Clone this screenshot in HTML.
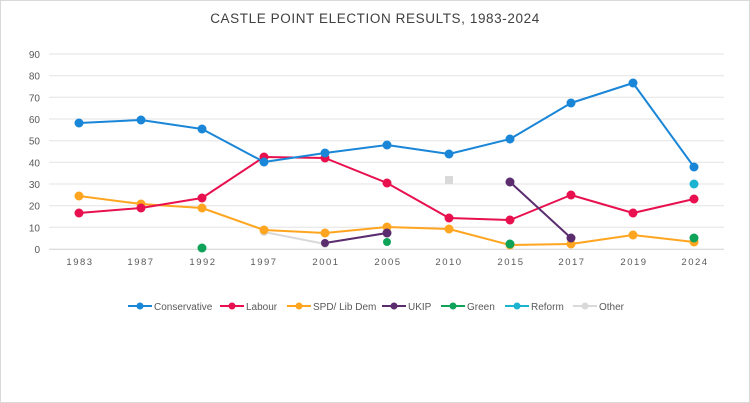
<!DOCTYPE html>
<html><head><style>
html,body{margin:0;padding:0;background:#fff}
svg{display:block}
text{font-family:"Liberation Sans",sans-serif}
</style></head><body>
<svg width="750" height="403" viewBox="0 0 750 403">
<rect x="0.5" y="0.5" width="749" height="402" fill="#fff" stroke="#d9d9d9"/>
<text x="375" y="23" text-anchor="middle" font-size="13.5" fill="#404040" letter-spacing="0.6">CASTLE POINT ELECTION RESULTS, 1983-2024</text>
<g stroke="#e3e3e3" stroke-width="1">
<line x1="49" x2="724" y1="54" y2="54"/><line x1="49" x2="724" y1="75.7" y2="75.7"/><line x1="49" x2="724" y1="97.3" y2="97.3"/><line x1="49" x2="724" y1="119" y2="119"/><line x1="49" x2="724" y1="140.7" y2="140.7"/><line x1="49" x2="724" y1="162.3" y2="162.3"/><line x1="49" x2="724" y1="184" y2="184"/><line x1="49" x2="724" y1="205.7" y2="205.7"/><line x1="49" x2="724" y1="227.3" y2="227.3"/>
</g>
<line x1="49" x2="724" y1="249.3" y2="249.3" stroke="#d0d0d0"/>
<g font-size="10" fill="#595959" text-anchor="end">
<text x="40" y="58">90</text><text x="40" y="79.7">80</text><text x="40" y="101.3">70</text><text x="40" y="123">60</text><text x="40" y="144.7">50</text><text x="40" y="166.3">40</text><text x="40" y="188">30</text><text x="40" y="209.7">20</text><text x="40" y="231.3">10</text><text x="40" y="253">0</text>
</g>
<g font-size="9.5" fill="#595959" text-anchor="middle" letter-spacing="1.5">
<text x="80" y="265">1983</text><text x="141" y="265">1987</text><text x="203" y="265">1992</text><text x="264" y="265">1997</text><text x="326" y="265">2001</text><text x="388" y="265">2005</text><text x="449" y="265">2010</text><text x="511" y="265">2015</text><text x="572" y="265">2017</text><text x="634" y="265">2019</text><text x="695" y="265">2024</text>
</g>
<g fill="none" stroke-width="2" stroke-linejoin="round">
<polyline stroke="#d9d9d9" points="264,232 325,244"/>
<polyline stroke="#ffa51f" points="79,196 141,204 202,208 264,230 325,233 387,227 449,229 510,245 571,244 633,235 694,242"/>
<polyline stroke="#e8104e" points="79,213 141,208 202,198 264,157 325,158 387,183 449,218 510,220 571,195 633,213 694,199"/>
<polyline stroke="#1a86d8" points="79,123 141,120 202,129 264,162 325,153 387,145 449,154 510,139 571,103 633,83 694,167"/>
<polyline stroke="#5b2d6e" points="325,243 387,233"/>
<polyline stroke="#5b2d6e" points="510,182 571,238"/>
</g>
<g fill="#d9d9d9"><circle cx="264" cy="232" r="4"/><circle cx="325" cy="244" r="4"/><rect x="445" y="176" width="8" height="8"/></g>
<g fill="#ffa51f"><circle cx="79" cy="196" r="4.5"/><circle cx="141" cy="204" r="4.5"/><circle cx="202" cy="208" r="4.5"/><circle cx="264" cy="230" r="4.5"/><circle cx="325" cy="233" r="4.5"/><circle cx="387" cy="227" r="4.5"/><circle cx="449" cy="229" r="4.5"/><circle cx="510" cy="245" r="4.5"/><circle cx="571" cy="244" r="4.5"/><circle cx="633" cy="235" r="4.5"/><circle cx="694" cy="242" r="4.5"/></g>
<g fill="#e8104e"><circle cx="79" cy="213" r="4.5"/><circle cx="141" cy="208" r="4.5"/><circle cx="202" cy="198" r="4.5"/><circle cx="264" cy="157" r="4.5"/><circle cx="325" cy="158" r="4.5"/><circle cx="387" cy="183" r="4.5"/><circle cx="449" cy="218" r="4.5"/><circle cx="510" cy="220" r="4.5"/><circle cx="571" cy="195" r="4.5"/><circle cx="633" cy="213" r="4.5"/><circle cx="694" cy="199" r="4.5"/></g>
<g fill="#1a86d8"><circle cx="79" cy="123" r="4.5"/><circle cx="141" cy="120" r="4.5"/><circle cx="202" cy="129" r="4.5"/><circle cx="264" cy="162" r="4.5"/><circle cx="325" cy="153" r="4.5"/><circle cx="387" cy="145" r="4.5"/><circle cx="449" cy="154" r="4.5"/><circle cx="510" cy="139" r="4.5"/><circle cx="571" cy="103" r="4.5"/><circle cx="633" cy="83" r="4.5"/><circle cx="694" cy="167" r="4.5"/></g>
<g fill="#5b2d6e"><circle cx="325" cy="243" r="4"/><circle cx="387" cy="233" r="4.5"/><circle cx="510" cy="182" r="4.5"/><circle cx="571" cy="238" r="4.5"/></g>
<g fill="#0fa35a"><circle cx="202" cy="248" r="4.5"/><circle cx="387" cy="242" r="4"/><circle cx="510" cy="244" r="4.5"/><circle cx="694" cy="238" r="4.5"/></g>
<circle cx="694" cy="184" r="4.5" fill="#1bb4d0"/>
<g stroke-width="2" font-size="10" fill="#595959">
<line x1="128" x2="152" y1="306" y2="306" stroke="#1a86d8"/><circle cx="140" cy="306" r="3.5" fill="#1a86d8"/><text x="154" y="310">Conservative</text>
<line x1="220" x2="244" y1="306" y2="306" stroke="#e8104e"/><circle cx="232" cy="306" r="3.5" fill="#e8104e"/><text x="246" y="310">Labour</text>
<line x1="287" x2="311" y1="306" y2="306" stroke="#ffa51f"/><circle cx="299" cy="306" r="3.5" fill="#ffa51f"/><text x="313" y="310">SPD/ Lib Dem</text>
<line x1="382" x2="406" y1="306" y2="306" stroke="#5b2d6e"/><circle cx="394" cy="306" r="3.5" fill="#5b2d6e"/><text x="408" y="310">UKIP</text>
<line x1="441" x2="465" y1="306" y2="306" stroke="#0fa35a"/><circle cx="453" cy="306" r="3.5" fill="#0fa35a"/><text x="467" y="310">Green</text>
<line x1="505" x2="529" y1="306" y2="306" stroke="#1bb4d0"/><circle cx="517" cy="306" r="3.5" fill="#1bb4d0"/><text x="531" y="310">Reform</text>
<line x1="573" x2="597" y1="306" y2="306" stroke="#d9d9d9"/><circle cx="585" cy="306" r="3.5" fill="#d9d9d9"/><text x="599" y="310">Other</text>
</g>
</svg>
</body></html>
